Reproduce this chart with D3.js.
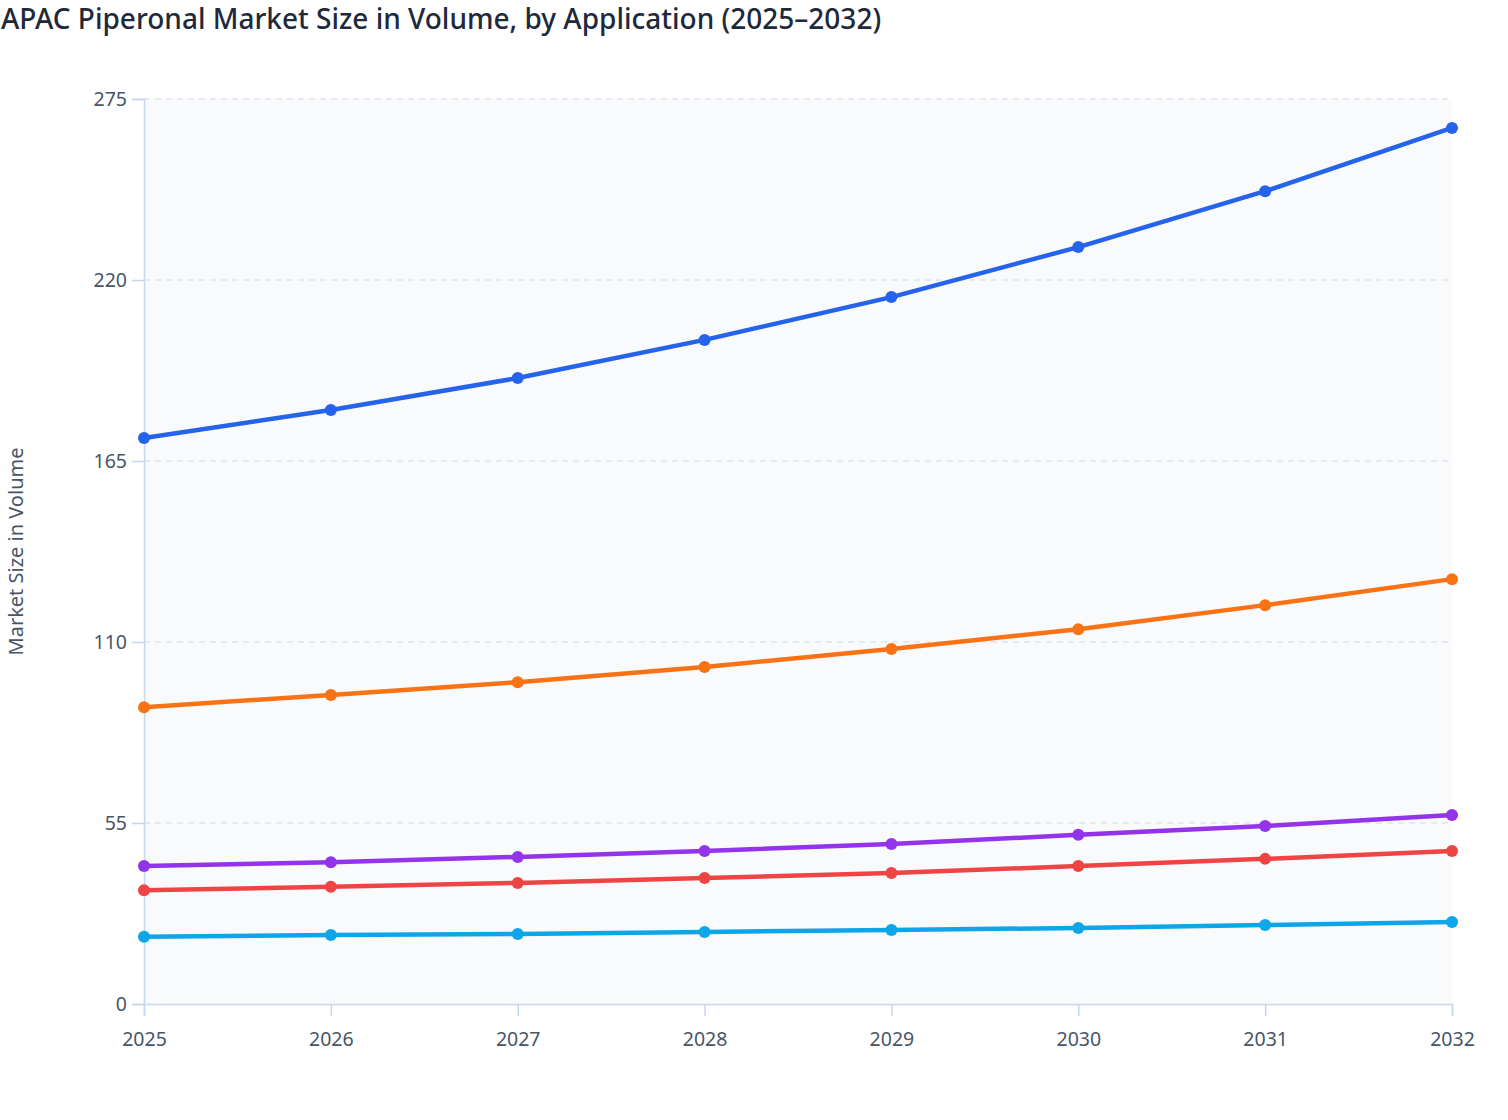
<!DOCTYPE html>
<html lang="en">
<head>
<meta charset="UTF-8">
<title>APAC Piperonal Market Size in Volume</title>
<script src="https://cdn.jsdelivr.net/npm/d3@7"></script>
<style>
  body { margin: 0; background: #fff; font-family: "Noto Sans", "Open Sans", sans-serif; }
</style>
</head>
<body>
<svg id="chart"></svg>
<script>
const years = [2025, 2026, 2027, 2028, 2029, 2030, 2031, 2032]
const yTicks = [0, 55, 110, 165, 220, 275]

// one array per application line (names not shown in the chart)
const seriesA = [172.0, 180.5, 190.2, 201.8, 214.8, 230.0, 247.0, 266.2]
const seriesB = [90.2, 93.9, 97.8, 102.4, 107.9, 113.9, 121.2, 129.1]
const seriesC = [41.9, 43.1, 44.7, 46.5, 48.6, 51.4, 54.1, 57.4]
const seriesD = [34.6, 35.6, 36.8, 38.3, 39.8, 41.9, 44.1, 46.5]
const seriesE = [20.4, 21.0, 21.3, 21.9, 22.5, 23.1, 24.0, 24.9]

const colors = ['#2563eb', '#f97316', '#9333ea', '#ef4444', '#0ea5e9']
const series = [seriesA, seriesB, seriesC, seriesD, seriesE]

const width = 1508, height = 1120
const margin = { top: 99, right: 56, bottom: 116, left: 144 }

const svg = d3.select('#chart')
    .attr('width', width)
    .attr('height', height)

const x = d3.scaleLinear()
    .domain(d3.extent(years))
    .range([margin.left, width - margin.right])

const y = d3.scaleLinear()
    .domain([0, 275])
    .range([height - margin.bottom, margin.top])

// plot background
svg.append('rect')
    .attr('x', margin.left)
    .attr('y', margin.top)
    .attr('width', x.range()[1] - x.range()[0])
    .attr('height', y.range()[0] - y.range()[1])
    .attr('fill', '#f8fafc')

// gridlines
svg.append('g')
    .selectAll('line')
    .data(yTicks.filter(d => d > 0))
    .join('line')
    .attr('x1', margin.left)
    .attr('x2', x.range()[1])
    .attr('y1', d => y(d))
    .attr('y2', d => y(d))
    .attr('stroke', '#e2e4ea')
    .attr('stroke-width', 1.5)
    .attr('stroke-dasharray', '6,5')

// axes
const xAxis = svg.append('g')
    .attr('transform', `translate(0,${y(0)})`)
    .call(d3.axisBottom(x).tickValues(years).tickFormat(d3.format('d')).tickSize(12).tickPadding(16))

const yAxis = svg.append('g')
    .attr('transform', `translate(${margin.left},0)`)
    .call(d3.axisLeft(y).tickValues(yTicks).tickSize(12).tickPadding(5))

for (const ax of [xAxis, yAxis]) {
    ax.select('.domain').attr('stroke', '#c7d4f3').attr('stroke-width', 1.5)
    ax.selectAll('.tick line').attr('stroke', '#c7d4f3').attr('stroke-width', 1.5)
    ax.selectAll('.tick text')
        .attr('fill', '#475569')
        .style('font-size', '19.5px')
        .style('font-family', '"Noto Sans", "Open Sans", sans-serif')
}

// lines and points
const line = d3.line()
    .x((d, i) => x(years[i]))
    .y(d => y(d))

series.forEach((vals, s) => {
    svg.append('path')
        .datum(vals)
        .attr('d', line)
        .attr('fill', 'none')
        .attr('stroke', colors[s])
        .attr('stroke-width', 4.5)
        .attr('stroke-linejoin', 'round')

    svg.append('g')
        .selectAll('circle')
        .data(vals)
        .join('circle')
        .attr('cx', (d, i) => x(years[i]))
        .attr('cy', d => y(d))
        .attr('r', 6)
        .attr('fill', colors[s])
})

// title
svg.append('text')
    .attr('x', 1)
    .attr('y', 29)
    .attr('fill', '#1e293b')
    .style('font-size', '28px')
    .style('font-weight', 500)
    .text('APAC Piperonal Market Size in Volume, by Application (2025–2032)')

// y axis label
svg.append('text')
    .attr('transform', `translate(23,${(y(0) + y(275)) / 2}) rotate(-90)`)
    .attr('text-anchor', 'middle')
    .attr('fill', '#475569')
    .style('font-size', '20px')
    .text('Market Size in Volume')
</script>
</body>
</html>
